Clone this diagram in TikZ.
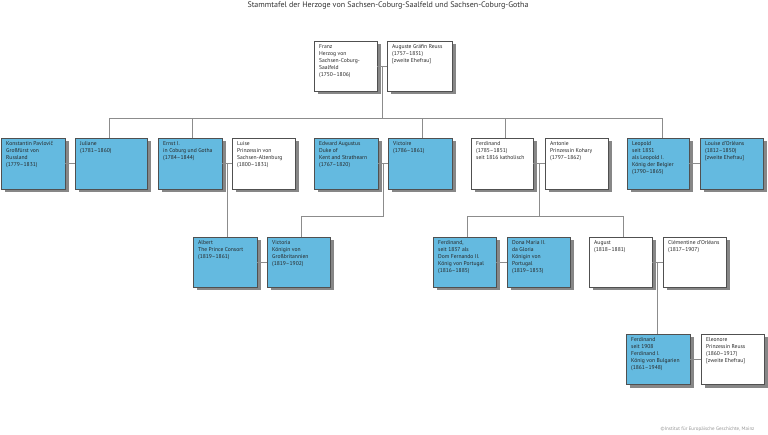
\documentclass[tikz,border=0pt]{standalone}
\usepackage{fontspec}
\setmainfont{PT Sans}
\usetikzlibrary{calc,shadows}
\definecolor{famblue}{RGB}{100,186,224}
\definecolor{bordc}{RGB}{80,80,80}
\definecolor{shadc}{RGB}{135,135,135}
\definecolor{connc}{RGB}{140,140,140}
\definecolor{credc}{RGB}{150,150,150}
\tikzset{
  famrect/.style={draw=bordc, line width=0.5pt, inner sep=0pt, outer sep=0pt, anchor=north west,
    drop shadow={shadow xshift=3.5pt, shadow yshift=-3.5pt, fill=shadc, opacity=1}},
  bluebox/.style={famrect, fill=famblue},
  whitebox/.style={famrect, fill=white},
  famtxt/.style={anchor=north west, inner sep=0pt, align=left, font=\fontsize{5.6}{7}\selectfont, text=black!85},
  conn/.style={draw=connc, line width=0.8pt},
}
% name, x, y, w, h, style, text
\newcommand\famnode[7]{%
  \node[#6, minimum width=#4pt, minimum height=#5pt] (#1) at (#2,-#3) {};
  \node[famtxt] (#1-t) at ([xshift=5pt,yshift=-3.5pt]#1.north west) {#7};
}
\begin{document}
\begin{tikzpicture}[x=1pt,y=1pt]
\useasboundingbox[fill=white] (0,0) rectangle (768,-435);
\node[font=\fontsize{8}{9}\selectfont, text=black!80] (title) at (388,-6) {Stammtafel der Herzoge von Sachsen-Coburg-Saalfeld und Sachsen-Coburg-Gotha};
\node[font=\fontsize{5}{6}\selectfont, text=credc, anchor=east] (credit) at (758,-429) {©Institut für Europäische Geschichte, Mainz};

\coordinate (bar) at (0,-118);
\coordinate (bar2) at (0,-216);

\famnode{franz}{314}{41}{63}{50}{whitebox}{Franz\\Herzog von\\Sachsen-Coburg-\\Saalfeld\\(1750–1806)}
\famnode{auguste}{387}{41}{65}{50}{whitebox}{Auguste Gräfin Reuss\\(1757–1831)\\{[zweite Ehefrau]}}

\famnode{konst}{1}{138}{64}{51}{bluebox}{Konstantin Pavlovič\\Großfürst von\\Russland\\(1779–1831)}
\famnode{juliane}{75}{138}{72}{51}{bluebox}{Juliane\\(1781–1860)}
\famnode{ernst}{158}{138}{64}{51}{bluebox}{Ernst I.\\in Coburg und Gotha\\(1784–1844)}
\famnode{luise}{232}{138}{63}{51}{whitebox}{Luise\\Prinzessin von\\Sachsen-Altenburg\\(1800–1831)}
\famnode{edward}{314}{138}{64}{51}{bluebox}{Edward Augustus\\Duke of\\Kent and Strathearn\\(1767–1820)}
\famnode{victoire}{388}{138}{64}{51}{bluebox}{Victoire\\(1786–1861)}
\famnode{ferd}{471}{138}{62}{51}{whitebox}{Ferdinand\\(1785–1851)\\seit 1816 katholisch}
\famnode{antonie}{545}{138}{63}{51}{whitebox}{Antonie\\Prinzessin Kohary\\(1797–1862)}
\famnode{leopold}{627}{138}{62}{51}{bluebox}{Leopold\\seit 1831\\als Leopold I.\\König der Belgier\\(1790–1865)}
\famnode{louise}{700}{138}{63}{51}{bluebox}{Louise d'Orléans\\(1812–1850)\\{[zweite Ehefrau]}}

\famnode{albert}{193}{237}{64}{50}{bluebox}{Albert\\The Prince Consort\\(1819–1861)}
\famnode{victoria}{267}{237}{63}{50}{bluebox}{Victoria\\Königin von\\Großbritannien\\(1819–1902)}
\famnode{ferdtwo}{433}{237}{63}{50}{bluebox}{Ferdinand,\\seit 1837 als\\Dom Fernando II.\\König von Portugal\\(1816–1885)}
\famnode{maria}{507}{237}{63}{50}{bluebox}{Dona Maria II.\\da Gloria\\Königin von\\Portugal\\(1819–1853)}
\famnode{august}{589}{237}{63}{50}{whitebox}{August\\(1818–1881)}
\famnode{clem}{663}{237}{63}{50}{whitebox}{Clémentine d'Orléans\\(1817–1907)}

\famnode{ferdb}{626}{334}{64}{50}{bluebox}{Ferdinand\\seit 1908\\Ferdinand I.\\König von Bulgarien\\(1861–1948)}
\famnode{eleonore}{701}{334}{63}{50}{whitebox}{Eleonore\\Prinzessin Reuss\\(1860–1917)\\{[zweite Ehefrau]}}

% marriage lines
\draw[conn] (franz.east) -- (auguste.west);
\draw[conn] (konst.east) -- (juliane.west);
\draw[conn] (ernst.east) -- (luise.west);
\draw[conn] (edward.east) -- (victoire.west);
\draw[conn] (ferd.east) -- (antonie.west);
\draw[conn] (leopold.east) -- (louise.west);
\draw[conn] (albert.east) -- (victoria.west);
\draw[conn] (ferdtwo.east) -- (maria.west);
\draw[conn] (august.east) -- (clem.west);
\draw[conn] (ferdb.east) -- (eleonore.west);

% descent
\coordinate (m0) at ($(franz.east)!.5!(auguste.west)$);
\draw[conn] (m0) -- (m0 |- bar);
\draw[conn] ([xshift=-2pt]juliane.north) -- ([xshift=-2pt]juliane.north |- bar) -- ([xshift=4pt]leopold.north |- bar) -- ([xshift=4pt]leopold.north);
\draw[conn] ([xshift=2pt]ernst.north) -- ([xshift=2pt]ernst.north |- bar);
\draw[conn] ([xshift=2pt]victoire.north) -- ([xshift=2pt]victoire.north |- bar);
\draw[conn] ([xshift=3pt]ferd.north) -- ([xshift=3pt]ferd.north |- bar);

\coordinate (m1) at ($(ernst.east)!.5!(luise.west)$);
\draw[conn] (m1) -- (m1 |- albert.north);
\coordinate (m2) at ($(edward.east)!.5!(victoire.west)$);
\draw[conn] (m2) -- (m2 |- bar2) -| ([xshift=2.5pt]victoria.north);
\coordinate (m3) at ($(ferd.east)!.5!(antonie.west)$);
\draw[conn] (m3) -- (m3 |- bar2);
\draw[conn] ([xshift=2.5pt]ferdtwo.north) -- ([xshift=2.5pt]ferdtwo.north |- bar2) -- ([xshift=3pt]august.north |- bar2) -- ([xshift=3pt]august.north);
\coordinate (m4) at ($(august.east)!.5!(clem.west)$);
\draw[conn] (m4) -- (m4 |- ferdb.north);
\end{tikzpicture}
\end{document}
